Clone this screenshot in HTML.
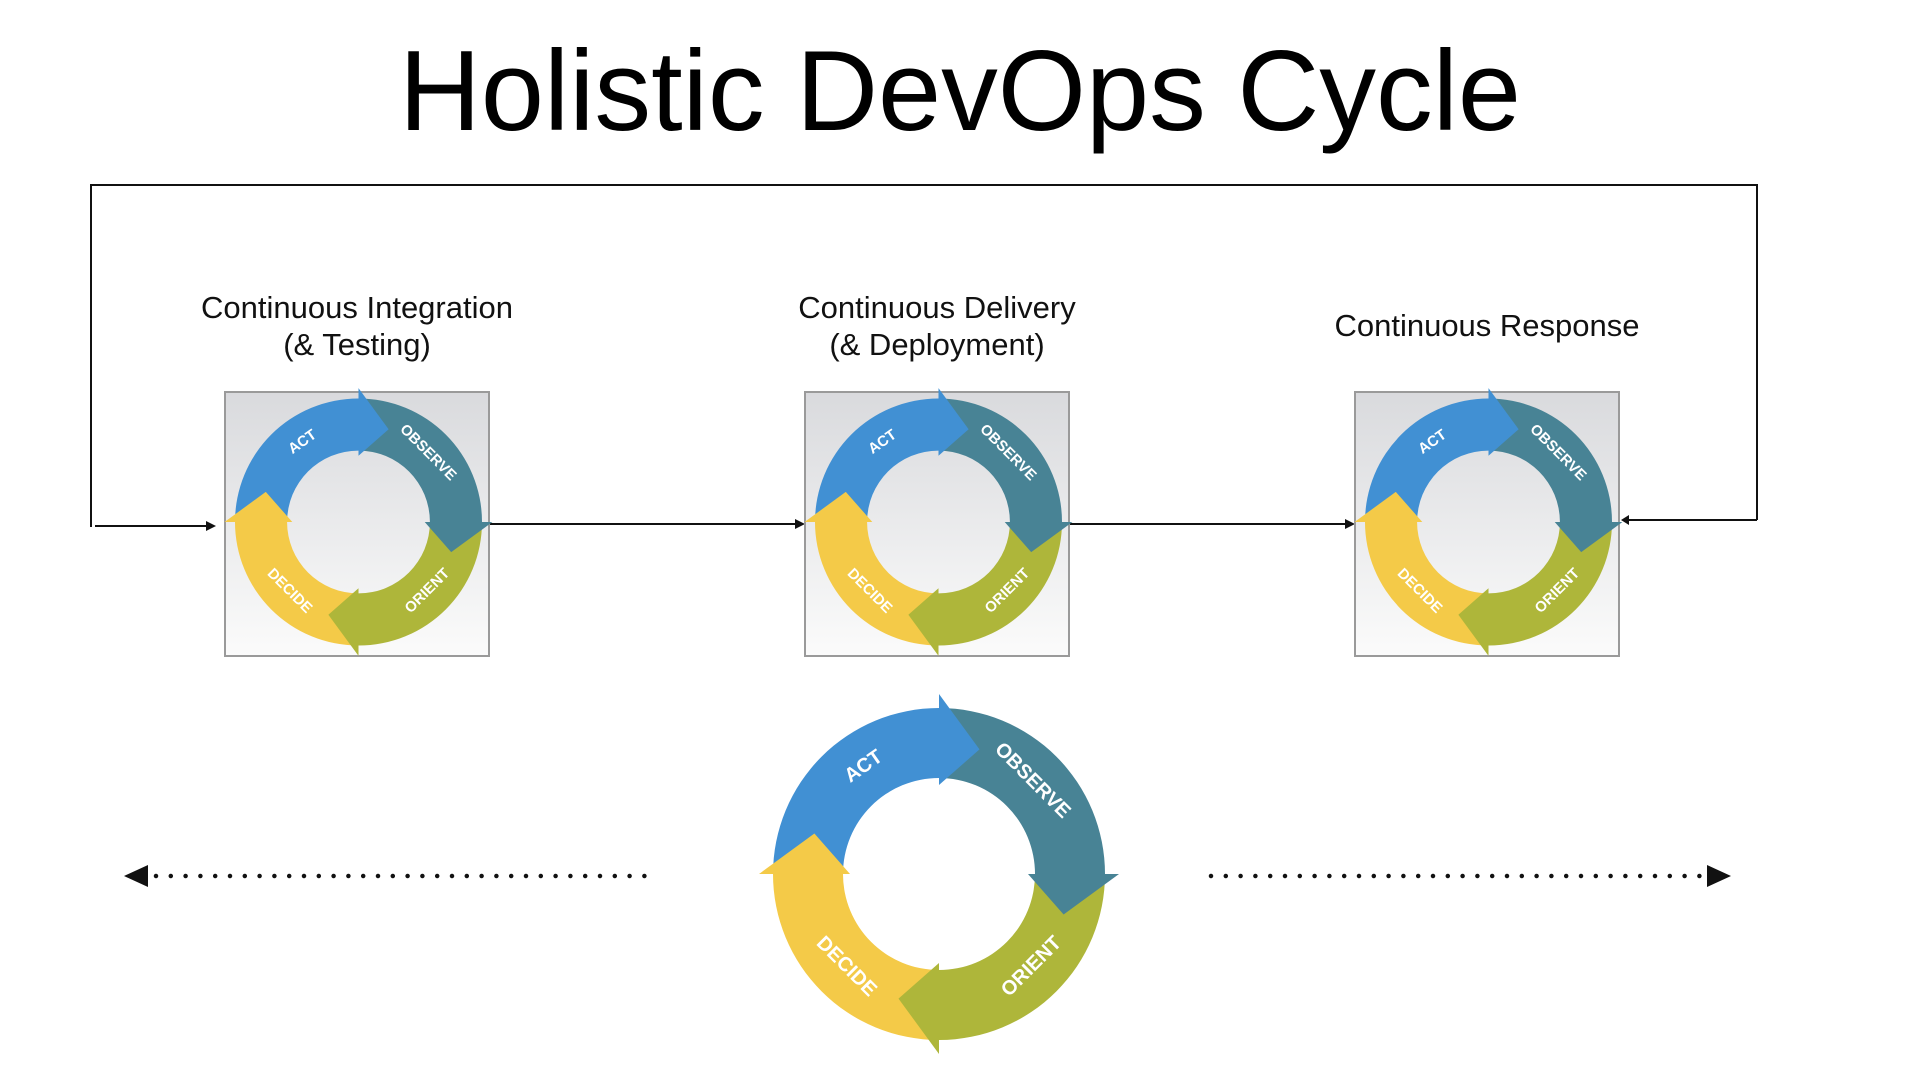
<!DOCTYPE html>
<html><head><meta charset="utf-8"><style>
html,body{margin:0;padding:0;background:#fff;}
svg{display:block;}
</style></head><body>
<svg width="1920" height="1080" viewBox="0 0 1920 1080" xmlns="http://www.w3.org/2000/svg">
<defs>
<linearGradient id="bg" x1="0" y1="0" x2="0" y2="1">
<stop offset="0" stop-color="#d9dadd"/><stop offset="1" stop-color="#fbfbfb"/>
</linearGradient>
<path id="body" d="M -166 0 A 166 166 0 0 1 0 -166 L 0 -96 A 96 96 0 0 0 -96 0 Z"/>
<path id="head" d="M 0 -89 L 0 -180 L 40.5 -124.6 Z"/>
<g id="cyc">
<use href="#body" fill="#4190d3"/>
<use href="#body" fill="#488395" transform="rotate(90)"/>
<use href="#body" fill="#aeb63a" transform="rotate(180)"/>
<use href="#body" fill="#f4ca48" transform="rotate(270)"/>
<use href="#head" fill="#4190d3"/>
<use href="#head" fill="#488395" transform="rotate(90)"/>
<use href="#head" fill="#aeb63a" transform="rotate(180)"/>
<use href="#head" fill="#f4ca48" transform="rotate(270)"/>
<g font-family="Liberation Sans, sans-serif" font-weight="bold" font-size="20" fill="#fff" text-anchor="middle" dominant-baseline="middle">
<text transform="translate(-75,-107) rotate(-35)">ACT</text>
<text transform="translate(93,-93) rotate(45)">OBSERVE</text>
<text transform="translate(93,93) rotate(-45)">ORIENT</text>
<text transform="translate(-93,93) rotate(45)">DECIDE</text>
</g>
</g>
</defs>

<text x="960" y="130" font-family="Liberation Sans, sans-serif" font-size="114" text-anchor="middle" textLength="1122" lengthAdjust="spacingAndGlyphs" fill="#000">Holistic DevOps Cycle</text>

<g font-family="Liberation Sans, sans-serif" font-size="31" text-anchor="middle" fill="#111">
<text x="357" y="318">Continuous Integration</text>
<text x="357" y="355">(&amp; Testing)</text>
<text x="937" y="318">Continuous Delivery</text>
<text x="937" y="355">(&amp; Deployment)</text>
<text x="1487" y="336">Continuous Response</text>
</g>

<polyline points="91,527 91,185 1757,185 1757,520" fill="none" stroke="#111" stroke-width="2"/>
<line x1="95" y1="526" x2="208" y2="526" stroke="#111" stroke-width="2"/>
<polygon points="216,526 206,521 206,531" fill="#111"/>
<line x1="1757" y1="520" x2="1628" y2="520" stroke="#111" stroke-width="2"/>
<polygon points="1621,520 1629,515 1629,525" fill="#111"/>
<line x1="489" y1="524" x2="797" y2="524" stroke="#111" stroke-width="2"/>
<polygon points="805,524 795,519 795,529" fill="#111"/>
<line x1="1069" y1="524" x2="1347" y2="524" stroke="#111" stroke-width="2"/>
<polygon points="1355,524 1345,519 1345,529" fill="#111"/>

<rect x="225" y="392" width="264" height="264" fill="url(#bg)" stroke="#9a9a9a" stroke-width="2"/>
<rect x="805" y="392" width="264" height="264" fill="url(#bg)" stroke="#9a9a9a" stroke-width="2"/>
<rect x="1355" y="392" width="264" height="264" fill="url(#bg)" stroke="#9a9a9a" stroke-width="2"/>
<use href="#cyc" transform="translate(358.5,522) scale(0.744)"/>
<use href="#cyc" transform="translate(938.5,522) scale(0.744)"/>
<use href="#cyc" transform="translate(1488.5,522) scale(0.744)"/>

<use href="#cyc" transform="translate(939,874)"/>

<line x1="156" y1="876" x2="646" y2="876" stroke="#111" stroke-width="4.5" stroke-linecap="round" stroke-dasharray="0 14.8"/>
<polygon points="124,876 148,865 148,887" fill="#111"/>
<line x1="1211" y1="876" x2="1707" y2="876" stroke="#111" stroke-width="4.5" stroke-linecap="round" stroke-dasharray="0 14.8"/>
<polygon points="1731,876 1707,865 1707,887" fill="#111"/>
</svg>
</body></html>
